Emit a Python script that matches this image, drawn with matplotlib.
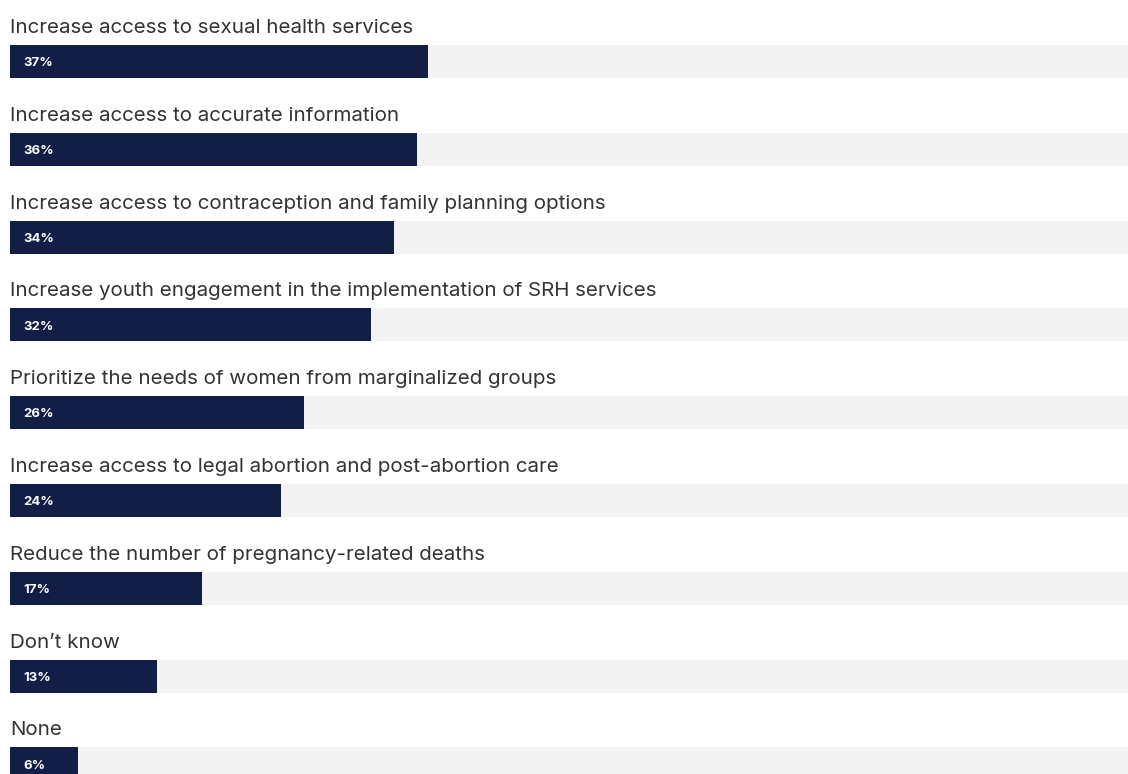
import matplotlib.pyplot as plt

# datos
categorias = [
    "Increase access to sexual health services",
    "Increase access to accurate information",
    "Increase access to contraception and family planning options",
    "Increase youth engagement in the implementation of SRH services",
    "Prioritize the needs of women from marginalized groups",
    "Increase access to legal abortion and post-abortion care",
    "Reduce the number of pregnancy-related deaths",
    "Don\u2019t know",
    "None",
]
valores = [37, 36, 34, 32, 26, 24, 17, 13, 6]

plt.rcParams["font.family"] = ["Inter", "DejaVu Sans"]

fig = plt.figure(figsize=(11.28, 7.74), dpi=100)
ax = fig.add_axes([10 / 1128, 0, 1118 / 1128, 1])

x_max = 99
alto = 0.376
pos = list(range(len(valores)))

# pista gris de fondo y barras
ax.barh(pos, [x_max] * len(pos), height=alto, color="#f3f3f3", left=0)
ax.barh(pos, valores, height=alto, color="#131e46", left=0)

for i, (cat, v) in enumerate(zip(categorias, valores)):
    ax.text(0, i - alto / 2 - 0.137, cat, fontsize=14.8, color="#333333",
            va="baseline", ha="left")
    ax.text(1.15, i + 0.02, f"{v}%", fontsize=9.5, color="white",
            fontweight="bold", va="center", ha="left")

ax.set_xlim(0, x_max)
ax.set_ylim(8.115, -0.700)
ax.axis("off")

fig.savefig("out.png", dpi=100)
